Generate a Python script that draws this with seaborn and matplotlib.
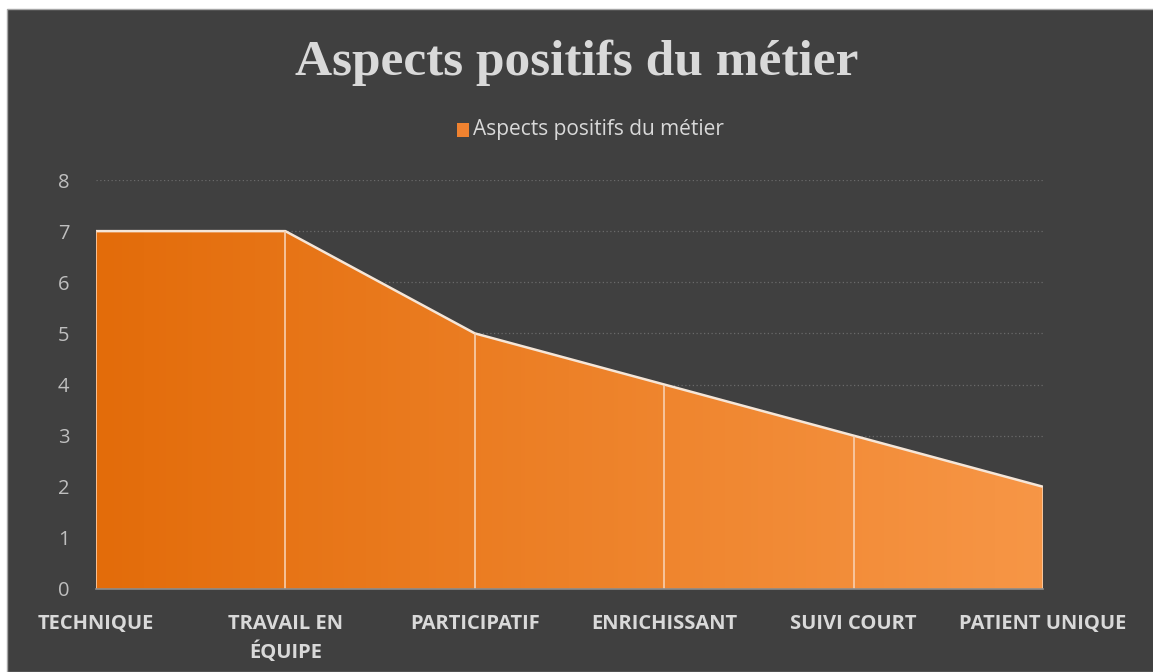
import numpy as np
import pandas as pd
import matplotlib
matplotlib.use('Agg')
import matplotlib.pyplot as plt
from matplotlib.colors import LinearSegmentedColormap
from matplotlib.patches import Rectangle, Polygon
import seaborn as sns

categories = ['TECHNIQUE', 'TRAVAIL EN\nÉQUIPE', 'PARTICIPATIF', 'ENRICHISSANT', 'SUIVI COURT', 'PATIENT UNIQUE']
values = [7, 7, 5, 4, 3, 2]
series_name = 'Aspects positifs du métier'
title = 'Aspects positifs du métier'

BG = '#404040'
data = pd.DataFrame({'cat': range(len(categories)), 'val': values})

sns.set_style('dark')
plt.rcParams['font.family'] = ['Open Sans', 'DejaVu Sans']

fig = plt.figure(figsize=(11.53, 6.72), dpi=100, facecolor='white')
fig.patches.append(Rectangle((7 / 1153, 0), 1, 1 - 9 / 672, transform=fig.transFigure,
                             facecolor=BG, edgecolor='#a6a6a6', linewidth=1.0, zorder=-1))
ax = fig.add_axes([96 / 1153, 1 - 589 / 672, (1043 - 96) / 1153, (589 - 180) / 672])
ax.set_facecolor(BG)

x = data['cat'].to_numpy()
y = data['val'].to_numpy()

# gradient area
cmap = LinearSegmentedColormap.from_list('orng', ['#E36C0A', '#F79646'])
poly = Polygon(np.column_stack([np.r_[x, x[::-1]], np.r_[y, np.zeros_like(y)]]),
               closed=True, facecolor='none', edgecolor='none')
ax.add_patch(poly)
grad = np.linspace(0, 1, 256).reshape(1, -1)
im = ax.imshow(grad, cmap=cmap, aspect='auto', extent=[x[0], x[-1], 0, 8],
               origin='lower', zorder=2)
im.set_clip_path(poly)

# outline and separators
sns.lineplot(data=data, x='cat', y='val', color='#f5e6d8', linewidth=1.8, ax=ax, zorder=3)
ax.vlines(x, 0, y, colors='#f8cfae', linewidth=1.2, zorder=3)

ax.set_xlim(x[0], x[-1])
ax.set_ylim(0, 8)
ax.set_yticks(range(0, 9))
ax.yaxis.grid(True, color='#6a6a6a', linestyle=(0, (1, 2)), linewidth=0.9)
ax.xaxis.grid(False)
ax.set_axisbelow(True)
for s in ['top', 'right', 'left']:
    ax.spines[s].set_visible(False)
ax.spines['bottom'].set_color('#8c8c8c')
ax.spines['bottom'].set_linewidth(1.2)
ax.spines['bottom'].set_zorder(4)

ax.set_xticks(x)
ax.set_xticklabels(categories, fontsize=14.5, fontweight='bold', color='#d9d9d9', linespacing=1.45)
ax.tick_params(axis='x', length=0, pad=18)
ax.tick_params(axis='y', length=0, pad=19, labelsize=14.5, labelcolor='#bfbfbf')
ax.set_xlabel('')
ax.set_ylabel('')

fig.text(0.5, 1 - 63 / 672, title, ha='center', va='center', fontsize=37,
         fontweight='bold', color='#d9d9d9', family=['Liberation Serif', 'DejaVu Serif'])

# legend
fig.patches.append(Rectangle((457 / 1153, 1 - 137 / 672), 12 / 1153, 14 / 672,
                             transform=fig.transFigure, facecolor='#EF8230', edgecolor='none'))
fig.text(473 / 1153, 1 - 129 / 672, series_name, ha='left', va='center',
         fontsize=15, color='#d9d9d9')

fig.savefig('out.png', dpi=100, facecolor=fig.get_facecolor())
